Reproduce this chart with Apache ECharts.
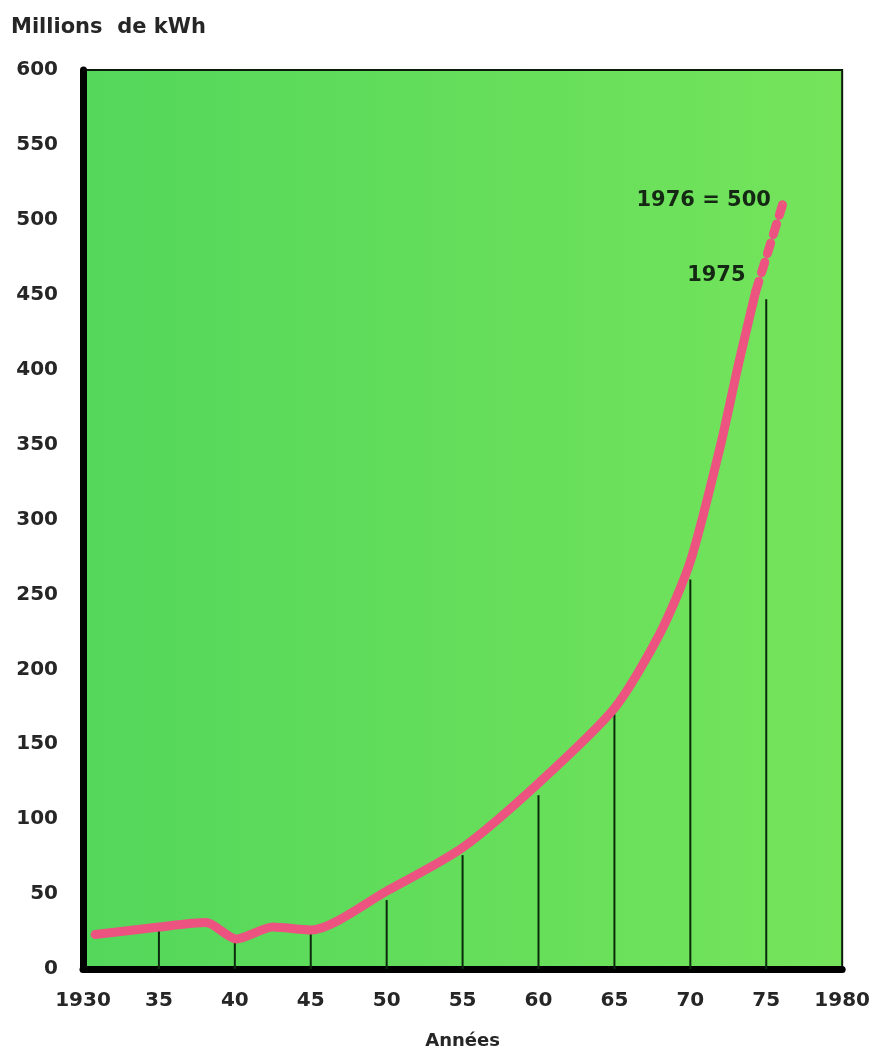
<!DOCTYPE html>
<html>
<head>
<meta charset="utf-8">
<script src="https://cdn.jsdelivr.net/npm/echarts@6/dist/echarts.min.js"></script>
<style>
  html, body { margin: 0; padding: 0; background: #fff; }
  #main { width: 873px; height: 1055px; }
</style>
</head>
<body>
<div id="main"></div>
<script>
// consommation, millions de kWh
var years = [1930.8, 1935, 1938.1, 1940.1, 1942.5, 1945, 1950, 1955, 1960, 1965, 1968, 1970, 1972, 1973.2, 1974.3];
var values = [23, 28, 31, 20, 28, 26, 52, 81, 124, 174, 224, 272, 350, 405, 452];
var dashYears = [1974.3, 1976.1];
var dashValues = [452, 511];
var dropYears = [35, 40, 45, 50, 55, 60, 65, 70, 75];
var dropValues = [28, 20, 24, 46, 76, 116, 170, 260, 447];

var ink = '#262626';
var font = 'DejaVu Sans';
var chart = echarts.init(document.getElementById('main'));

var option = {
  animation: false,
  graphic: [{
    type: 'text', left: 11, top: 17,
    style: { text: 'Millions  de kWh', fill: ink, font: 'bold 21px "DejaVu Sans"' }
  }],
  grid: {
    left: 83, right: 30, top: 70, bottom: 78,
    show: true,
    borderColor: '#0c1a0c',
    borderWidth: 2,
    backgroundColor: {
      type: 'linear', x: 0, y: 0, x2: 1, y2: 0,
      colorStops: [{ offset: 0, color: '#53d75b' }, { offset: 1, color: '#75e45b' }]
    }
  },
  xAxis: {
    type: 'value', min: 1930, max: 1980, interval: 5,
    name: 'Années', nameLocation: 'middle', nameGap: 63,
    nameTextStyle: { color: ink, fontSize: 18, fontWeight: 'bold', fontFamily: font },
    axisLine: { lineStyle: { color: '#000', width: 7 } },
    axisTick: { show: false },
    splitLine: { show: false },
    axisLabel: {
      margin: 22, color: ink, fontSize: 20, fontWeight: 'bold', fontFamily: font,
      formatter: function (v) { return (v === 1930 || v === 1980) ? String(v) : String(v - 1900); }
    }
  },
  yAxis: {
    type: 'value', min: 0, max: 600, interval: 50,
    axisLine: { show: true, lineStyle: { color: '#000', width: 7 } },
    axisTick: { show: false },
    splitLine: { show: false },
    axisLabel: { margin: 25, color: ink, fontSize: 20, fontWeight: 'bold', fontFamily: font }
  },
  series: [
    {
      type: 'bar',
      barWidth: 2,
      itemStyle: { color: '#0b2a0b' },
      data: dropYears.map(function (y, i) { return [1900 + y, dropValues[i]]; }),
      z: 1
    },
    {
      type: 'line',
      data: years.map(function (y, i) { return [y, values[i]]; }),
      showSymbol: false,
      smooth: 0.25,
      lineStyle: { color: '#ec5380', width: 9, cap: 'round', join: 'round' },
      z: 3
    },
    {
      type: 'line',
      data: dashYears.map(function (y, i) {
        return {
          value: [y, dashValues[i]],
          label: {
            show: true, position: 'left',
            formatter: i === 0 ? '1975' : '1976 = 500',
            offset: i === 0 ? [-4, -16] : [-6, -3],
            color: '#142814', fontSize: 21, fontWeight: 'bold', fontFamily: font
          }
        };
      }),
      showSymbol: true,
      symbolSize: 0.1,
      lineStyle: { color: '#ec5380', width: 9, type: [11, 9], cap: 'round' },
      z: 3
    }
  ]
};

chart.setOption(option);
</script>
</body>
</html>
